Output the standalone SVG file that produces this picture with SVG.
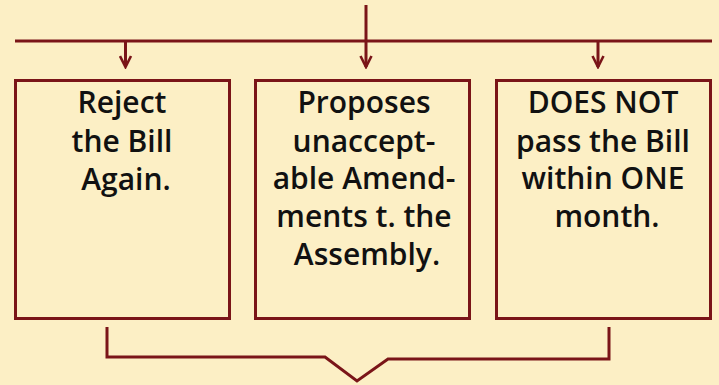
<svg xmlns="http://www.w3.org/2000/svg" width="719" height="385" viewBox="0 0 719 385">
<defs>
<style>
.ln{fill:none;stroke:#7a1518;stroke-width:3;}
.bx{fill:none;stroke:#7a1518;stroke-width:3;}
.t{font-family:"Open Sans","Liberation Sans",sans-serif;font-weight:600;font-size:30px;fill:#111;text-anchor:middle;}
</style>
<marker id="ah" markerWidth="14" markerHeight="14" viewBox="0 0 14 14" refX="12" refY="7" orient="auto" markerUnits="userSpaceOnUse">
<path d="M1,1.5 L12,7 L1,12.5" fill="none" stroke="#7a1518" stroke-width="2.6"/>
</marker>
</defs>
<rect width="719" height="385" fill="#fcefc5"/>
<g id="connectors">
<line class="ln" x1="366" y1="5" x2="366" y2="41"/>
<line class="ln" x1="15" y1="41" x2="712" y2="41"/>
<path class="ln" d="M125.5,41 V67" marker-end="url(#ah)"/>
<path class="ln" d="M366,41 V67" marker-end="url(#ah)"/>
<path class="ln" d="M598,41 V67" marker-end="url(#ah)"/>
<path class="ln" d="M107,327 V357 H325 L357,381 L388,359 H609 V327"/>
</g>
<g id="node1">
<rect class="bx" x="15.5" y="80.5" width="214" height="238"/>
<text class="t" x="122" y="113">Reject</text>
<text class="t" x="122" y="152">the Bill</text>
<text class="t" x="126" y="190">Again.</text>
</g>
<g id="node2">
<rect class="bx" x="255.5" y="80.5" width="214" height="238"/>
<text class="t" x="364" y="113">Proposes</text>
<text class="t" x="364" y="152">unaccept-</text>
<text class="t" x="364" y="189">able Amend-</text>
<text class="t" x="364" y="227">ments t. the</text>
<text class="t" x="367" y="265">Assembly.</text>
</g>
<g id="node3">
<rect class="bx" x="496.5" y="80.5" width="214" height="238"/>
<text class="t" x="603" y="113">DOES NOT</text>
<text class="t" x="603" y="152">pass the Bill</text>
<text class="t" x="603" y="189">within ONE</text>
<text class="t" x="607" y="227">month.</text>
</g>
</svg>
